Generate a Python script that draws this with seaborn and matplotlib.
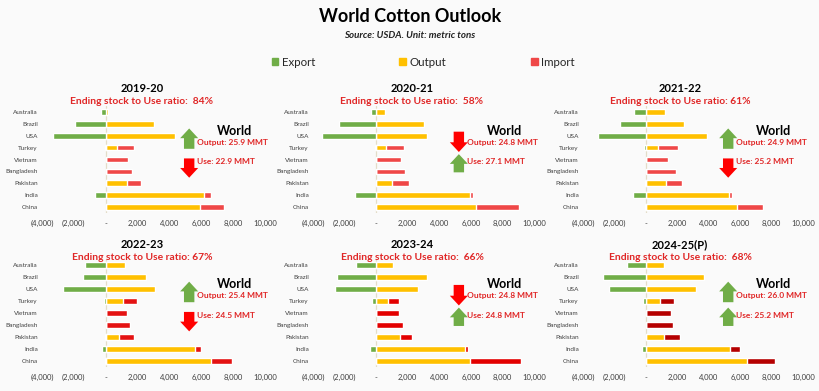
import pandas as pd
import seaborn as sns
import matplotlib.pyplot as plt
from matplotlib.patches import Patch
from matplotlib.ticker import FuncFormatter

# Data (thousand metric tons)
countries = ['Australia', 'Brazil', 'USA', 'Turkey', 'Vietnam', 'Bangladesh', 'Pakistan', 'India', 'China']
years = ['2019-20', '2020-21', '2021-22', '2022-23', '2023-24', '2024-25(P)']
ratio_labels = ['Ending stock to Use ratio:  84%', 'Ending stock to Use ratio:  58%',
                'Ending stock to Use ratio: 61%', 'Ending stock to Use ratio: 67%',
                'Ending stock to Use ratio:  66%', 'Ending stock to Use ratio:  68%']
world_output = [25.9, 24.8, 24.9, 25.4, 24.8, 26.0]
world_use = [22.9, 27.1, 25.2, 24.5, 24.8, 25.2]
output_up = [True, False, True, True, False, True]
use_up = [False, True, False, False, True, True]

exp_2019 = [-270, -1950, -3300, -50, 0, 0, 0, -670, 0]
out_2019 = [150, 3020, 4370, 730, 0, 0, 1350, 6150, 5900]
imp_2019 = [0, 0, 0, 1040, 1410, 1630, 880, 450, 1550]

exp_2020 = [-350, -2360, -3430, -80, 0, 0, 0, -1330, 0]
out_2020 = [590, 3050, 3200, 630, 0, 0, 990, 5960, 6320]
imp_2020 = [0, 0, 0, 1120, 1580, 1850, 1110, 170, 2750]

exp_2021 = [-760, -1660, -3050, -100, 0, 0, -60, -800, -60]
out_2021 = [1220, 2400, 3890, 800, 0, 0, 1300, 5300, 5810]
imp_2021 = [0, 0, 0, 1220, 1430, 1900, 970, 170, 1660]

exp_2022 = [-1330, -1420, -2670, -100, 0, 0, -50, -230, -40]
out_2022 = [1210, 2560, 3125, 1080, 0, 0, 830, 5620, 6625]
imp_2022 = [0, 0, 0, 860, 1350, 1540, 960, 360, 1290]

exp_2023 = [-1280, -2480, -2630, -250, 0, 0, -30, -400, -30]
out_2023 = [1070, 3220, 2650, 760, 0, 0, 1520, 5620, 5940]
imp_2023 = [0, 0, 0, 710, 1430, 1700, 730, 170, 3220]

exp_2024 = [-1180, -2740, -2340, -150, 0, 0, 0, -270, 0]
out_2024 = [1160, 3730, 3200, 880, 0, 0, 1160, 5350, 6420]
imp_2024 = [0, 0, 0, 890, 1580, 1730, 1010, 610, 1770]

exports = [exp_2019, exp_2020, exp_2021, exp_2022, exp_2023, exp_2024]
outputs = [out_2019, out_2020, out_2021, out_2022, out_2023, out_2024]
imports = [imp_2019, imp_2020, imp_2021, imp_2022, imp_2023, imp_2024]

GREEN = '#70ad47'
GOLD = '#ffc000'
IMP_COLORS = ['#ef4747', '#ef4747', '#ef4747', '#e41212', '#e30000', '#b50000']
RED_TXT = '#e02626'

sns.set_theme(style='white')
plt.rcParams['font.family'] = ['Lato', 'DejaVu Sans']

fig = plt.figure(figsize=(8.2, 3.91), dpi=100, facecolor='#fafafa')
W, H = 820, 391

col_left = [42, 313, 583]
col_width = [223, 221, 220]
row_span = [(106, 213), (259, 367)]
title_x = [142, 412, 680]
title_y = [(89, 101), (245, 257)]


def fmt(v, pos):
    if v == 0:
        return '-'
    if v < 0:
        return '({:,.0f})'.format(-v)
    return '{:,.0f}'.format(v)


def block_arrow(ax, x, y0, y1, color):
    ax.annotate('', xy=(x, y1), xytext=(x, y0), xycoords='axes fraction',
                arrowprops=dict(arrowstyle='simple,head_length=0.7,head_width=1.3,tail_width=0.75',
                                fc=color, ec=color, lw=0, mutation_scale=10,
                                shrinkA=0, shrinkB=0))


for i, year in enumerate(years):
    r, c = divmod(i, 3)
    top, bottom = row_span[r]
    ax = fig.add_axes([col_left[c] / W, 1 - bottom / H, col_width[c] / W, (bottom - top) / H])
    ax.set_facecolor('none')

    df = pd.DataFrame({'country': countries, 'export': exports[i], 'output': outputs[i]})
    df['total'] = df['output'] + pd.Series(imports[i])

    ax.axvline(0, color='#e3dcc8', lw=0.9, zorder=0)
    sns.barplot(data=df, x='total', y='country', orient='y', color=IMP_COLORS[i],
                width=0.47, saturation=1, errorbar=None, ax=ax)
    sns.barplot(data=df, x='output', y='country', orient='y', color=GOLD,
                width=0.47, saturation=1, errorbar=None, ax=ax)
    sns.barplot(data=df, x='export', y='country', orient='y', color=GREEN,
                width=0.47, saturation=1, errorbar=None, ax=ax)

    ax.set_xlim(-4000, 10000)
    ax.set_xticks(range(-4000, 10001, 2000))
    ax.xaxis.set_major_formatter(FuncFormatter(fmt))
    ax.set_xlabel('')
    ax.set_ylabel('')
    ax.tick_params(axis='x', length=0, pad=5, labelsize=5.5, labelcolor='#404040')
    ax.tick_params(axis='y', length=0, pad=3, labelsize=4.6, labelcolor='#404040')
    sns.despine(ax=ax, left=True, bottom=True)

    # panel headings
    fig.text(title_x[c] / W, 1 - title_y[r][0] / H, year, ha='center', va='center',
             fontsize=8, fontweight='bold', color='black')
    fig.text(title_x[c] / W, 1 - title_y[r][1] / H, ratio_labels[i], ha='center', va='center',
             fontsize=7.4, fontweight='bold', color=RED_TXT)

    # world output / use arrows
    if output_up[i]:
        block_arrow(ax, 0.66, 0.60, 0.79, GREEN)
    else:
        block_arrow(ax, 0.66, 0.76, 0.57, '#ff0000')
    if use_up[i]:
        block_arrow(ax, 0.66, 0.38, 0.55, GREEN)
    else:
        block_arrow(ax, 0.66, 0.51, 0.33, '#ff0000')

    ax.text(0.865, 0.765, 'World', transform=ax.transAxes, ha='center', va='center',
            fontsize=9, fontweight='bold', color='black')
    ax.text(0.695, 0.66, 'Output: {:.1f} MMT'.format(world_output[i]), transform=ax.transAxes,
            ha='left', va='center', fontsize=6, fontweight='bold', color=RED_TXT)
    ax.text(0.695, 0.48, 'Use: {:.1f} MMT'.format(world_use[i]), transform=ax.transAxes,
            ha='left', va='center', fontsize=6, fontweight='bold', color=RED_TXT)

fig.text(0.5, 1 - 17 / H, 'World Cotton Outlook', ha='center', va='center',
         fontsize=13, fontweight='bold', color='black')
fig.text(0.5, 1 - 35 / H, 'Source: USDA. Unit: metric tons', ha='center', va='center',
         fontsize=7, fontweight='bold', fontstyle='italic', color='#222222')

handles = [Patch(color=GREEN, label='Export'), Patch(color=GOLD, label='Output'),
           Patch(color='#ef4747', label='Import')]
fig.legend(handles=handles, loc='center', bbox_to_anchor=(0.516, 1 - 62 / H), ncol=3,
           frameon=False, fontsize=8.3, handlelength=0.6, handleheight=0.6,
           handletextpad=0.3, columnspacing=7.3)

fig.savefig('out.png', dpi=100, facecolor=fig.get_facecolor())
